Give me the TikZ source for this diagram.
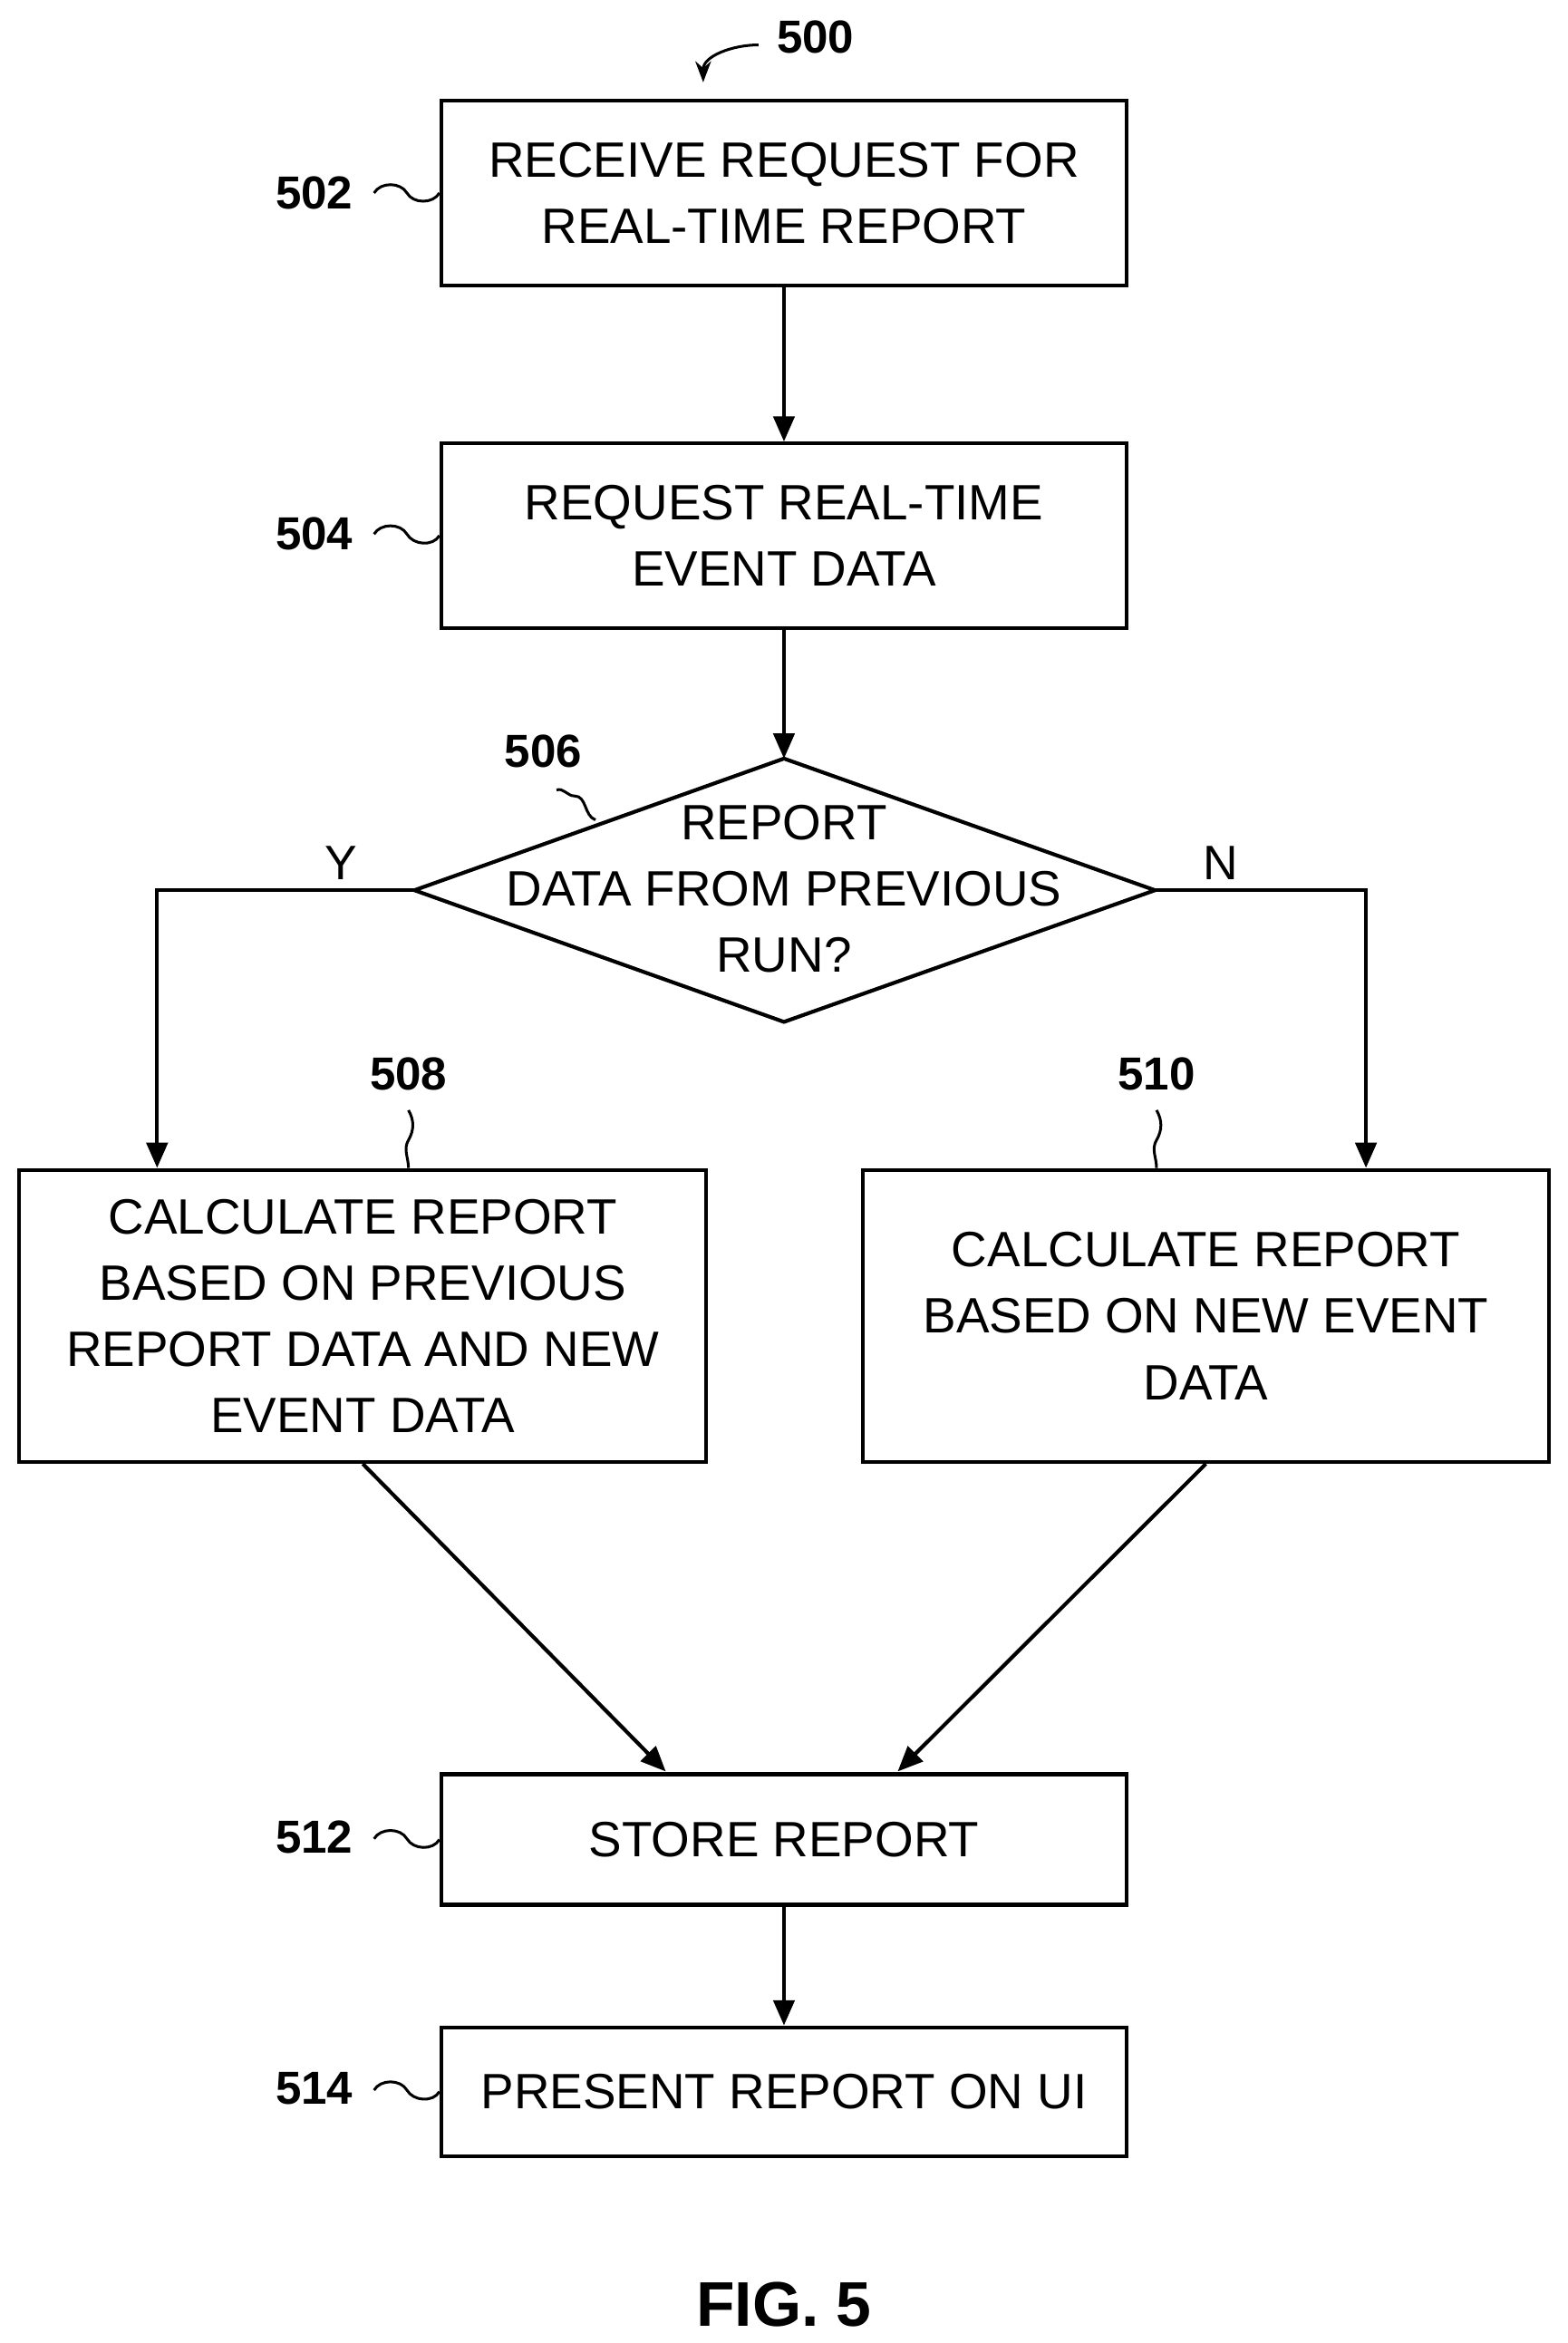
\documentclass[tikz,border=0pt]{standalone}
\usepackage{fontspec}
\setmainfont{Liberation Sans}
\usetikzlibrary{arrows.meta}
\tikzset{
  box/.style={draw,line width=1.8pt,align=center,font=\fontsize{23.6}{31.5}\selectfont,minimum width=11.45cm},
  ref/.style={font=\bfseries\fontsize{22}{25}\selectfont},
  flow/.style={line width=1.8pt,-{Triangle[length=12pt,width=10pt]}},
  lead/.style={line width=1.3pt}
}
\begin{document}
\begin{tikzpicture}[x=0.025cm,y=-0.025cm]
  \useasboundingbox (0,0) rectangle (1048,1566);
  % boxes
  \node[box,minimum height=3.08cm] (b502) at (524,129) {RECEIVE REQUEST FOR\\REAL-TIME REPORT};
  \node[box,minimum height=3.08cm] (b504) at (524,358) {REQUEST REAL-TIME\\EVENT DATA};
  % decision
  \coordinate (d506n) at (524,507);
  \coordinate (d506s) at (524,683);
  \coordinate (d506w) at (277,595);
  \coordinate (d506e) at (772,595);
  \draw[line width=1.8pt,line join=miter] (d506n) -- (d506e) -- (d506s) -- (d506w) -- cycle;
  \node[align=center,font=\fontsize{23.6}{31.5}\selectfont] (d506) at (524,594) {REPORT\\DATA FROM PREVIOUS\\RUN?};
  \node[box,minimum height=4.88cm,minimum width=11.48cm] (b508) at (242.5,879.5) {CALCULATE REPORT\\BASED ON PREVIOUS\\REPORT DATA AND NEW\\EVENT DATA};
  \node[box,minimum height=4.88cm,minimum width=11.45cm] (b510) at (806,879.5) {CALCULATE REPORT\\BASED ON NEW EVENT\\DATA};
  \node[box,minimum height=2.18cm] (b512) at (524,1229.5) {STORE REPORT};
  \node[box,minimum height=2.15cm] (b514) at (524,1398) {PRESENT REPORT ON UI};
  % reference numerals
  \node[ref] (r500) at (545,25) {500};
  \node[ref] (r502) at (210,129) {502};
  \node[ref] (r504) at (210,357) {504};
  \node[ref] (r506) at (363,502) {506};
  \node[ref] (r508) at (273,718) {508};
  \node[ref] (r510) at (773,718) {510};
  \node[ref] (r512) at (210,1228) {512};
  \node[ref] (r514) at (210,1396) {514};
  \node[font=\bfseries\fontsize{30}{34}\selectfont] (fig) at (524,1540) {FIG. 5};
  \node[font=\fontsize{23}{26}\selectfont] (yes) at (228,577) {Y};
  \node[font=\fontsize{23}{26}\selectfont] (no) at (816,577) {N};
  % leaders
  \foreach \n/\y in {502/129,504/357,512/1229,514/1397}
    \draw[lead] (250,\y) to[out=60,in=120] (272,\y) to[out=-60,in=-120] (b\n.west);
  \draw[lead] (372,528) to[out=20,in=180] (384,532) to[out=0,in=160] (398,548);
  \draw[lead] (273,742) to[out=-60,in=60] (273,762) to[out=-120,in=90] (b508.north -| r508);
  \draw[lead] (773,742) to[out=-60,in=60] (773,762) to[out=-120,in=90] (b510.north -| r510);
  \draw[lead,-{Stealth[length=10pt]}] (507,30) to[out=180,in=90] (470,55);
  % connectors
  \draw[flow] (b502) -- (b504);
  \draw[flow] (b504) -- (d506n);
  \draw[flow] (d506w) -| (b508.north -| 105,0);
  \draw[flow] (d506e) -| (b510.north -| 913,0);
  \draw[flow] (b508.south) -- (445,1184);
  \draw[flow] (b510.south) -- (600,1184);
  \draw[flow] (b512) -- (b514);
\end{tikzpicture}
\end{document}
